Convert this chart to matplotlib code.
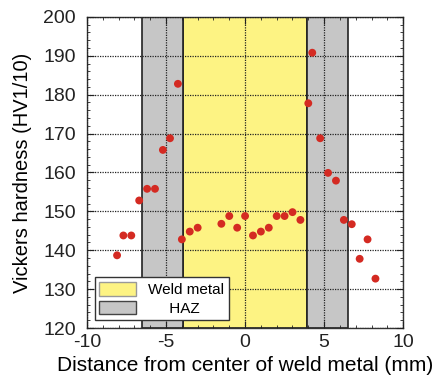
import matplotlib
matplotlib.use("Agg")
import matplotlib.pyplot as plt
import matplotlib.patches as mpatches
from matplotlib.ticker import MultipleLocator

# distancia (mm) y dureza (HV1/10)
dist = [-8.1, -7.7, -7.2, -6.7, -6.2, -5.7, -5.2, -4.75, -4.25, -4.0,
        -3.5, -3.0, -1.5, -1.0, -0.5, 0.0, 0.5, 1.0, 1.5, 2.0, 2.5, 3.0, 3.5,
        4.0, 4.25, 4.75, 5.25, 5.75, 6.25, 6.75, 7.25, 7.75, 8.25]
dureza = [138.7, 143.8, 143.8, 152.8, 155.8, 155.8, 165.8, 168.8, 182.8, 142.8,
          144.8, 145.8, 146.8, 148.8, 145.8, 148.8, 143.8, 144.8, 145.8, 148.8, 148.8, 149.8, 147.8,
          177.8, 190.8, 168.8, 159.9, 157.9, 147.8, 146.7, 137.8, 142.8, 132.7]

zona_soldadura = (-3.9, 3.9)
zonas_haz = [(-6.5, -3.9), (3.9, 6.5)]

plt.rcParams["font.family"] = ["Liberation Sans", "DejaVu Sans"]
plt.rcParams["axes.unicode_minus"] = False

fig = plt.figure(figsize=(4.33, 3.85), dpi=100)
ax = fig.add_axes([0.201, 0.148, 0.730, 0.808])

ax.axvspan(*zona_soldadura, facecolor="#fdf383", edgecolor="#222222", lw=1.2, zorder=0)
for a, b in zonas_haz:
    ax.axvspan(a, b, facecolor="#c6c6c6", edgecolor="#222222", lw=1.2, zorder=0)

ax.grid(True, which="major", color="#222222", linestyle=(0, (1, 1)), linewidth=0.9, zorder=1)
ax.set_axisbelow(False)

ax.scatter(dist, dureza, s=32, color="#d42a22", zorder=3, edgecolors="none")

ax.set_xlim(-10, 10)
ax.set_ylim(120, 200)
ax.xaxis.set_major_locator(MultipleLocator(5))
ax.xaxis.set_minor_locator(MultipleLocator(1))
ax.yaxis.set_major_locator(MultipleLocator(10))
ax.yaxis.set_minor_locator(MultipleLocator(2))
ax.tick_params(which="both", direction="in", top=True, right=True, labelsize=14, colors="#222222")
ax.tick_params(which="major", length=5)
ax.tick_params(which="minor", length=2.5)
ax.tick_params(axis="x", pad=4)
ax.tick_params(axis="y", pad=8)

ax.set_xlabel("Distance from center of weld metal (mm)", fontsize=15, labelpad=4)
ax.set_ylabel("Vickers hardness (HV1/10)", fontsize=14.5, labelpad=8)

p_weld = mpatches.Patch(facecolor="#fdf383", edgecolor="#999999", label="Weld metal")
p_haz = mpatches.Patch(facecolor="#c6c6c6", edgecolor="#444444", label="     HAZ")
leg = ax.legend(handles=[p_weld, p_haz], loc="lower left", fontsize=11, fancybox=False,
                framealpha=1, edgecolor="#333333", borderaxespad=0.5,
                handlelength=2.4, handleheight=1.0, labelspacing=0.25, borderpad=0.3)
leg.get_frame().set_linewidth(1.0)
leg.set_zorder(4)

for s in ax.spines.values():
    s.set_linewidth(1.0)
    s.set_color("#333333")

fig.savefig("out.png", dpi=100)
plt.close()
